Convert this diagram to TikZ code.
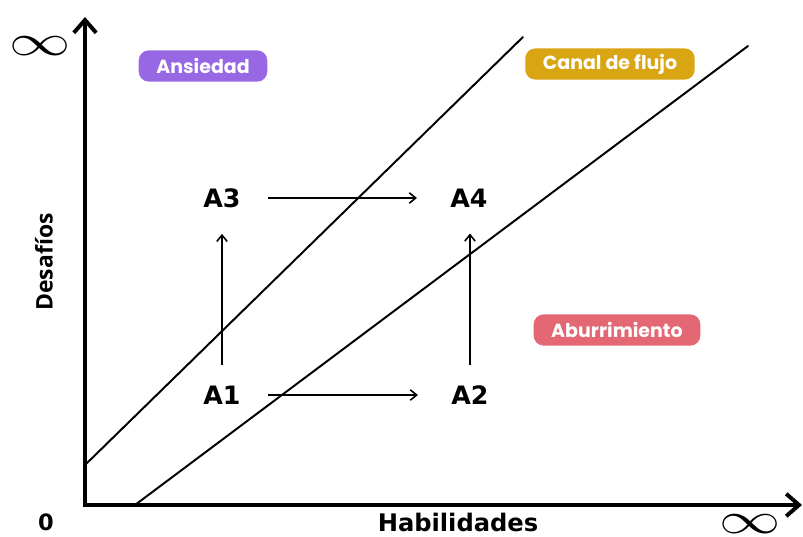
\documentclass[tikz,border=0pt]{standalone}
\usepackage{graphicx}
\usepackage{fontspec}
\setmainfont{DejaVu Sans}
\newfontfamily\badgefont{Poppins}
\newfontfamily\narrowfont{Open Sans}
\usetikzlibrary{arrows.meta, positioning}
\definecolor{SoftPurple}{RGB}{152,104,228}
\definecolor{FlowGold}{RGB}{218,165,18}
\definecolor{SoftRed}{RGB}{228,104,116}

\begin{document}
\begin{tikzpicture}[
    x=0.025cm, y=-0.025cm,
    axis/.style={line width=2.8pt, -{Straight Barb[length=3.2mm, width=5.6mm]}},
    band/.style={line width=1.4pt, line cap=round},
    flow/.style={line width=1.1pt, shorten >=0.15cm, -{Straight Barb[length=1.6mm, width=2.6mm]}},
    state/.style={font=\fontsize{18}{20}\selectfont\bfseries, inner xsep=0.68cm, inner ysep=0.5cm},
    badge/.style={fill=#1, text=white, rounded corners=0.25cm, minimum height=0.78cm,
        inner xsep=0.44cm, font=\badgefont\fontsize{13.5}{15}\selectfont\bfseries},
    axlabel/.style={font=\fontsize{16}{18}\selectfont\bfseries},
    inf/.style={font=\fontsize{24.88}{26}\selectfont},
]
\useasboundingbox (0,0) rectangle (803,537);

% ejes
\coordinate (o) at (85,505);
\coordinate (ytop) at (85,17);
\coordinate (xend) at (802,505);
\draw[axis, line cap=rect] (o) -- (ytop);
\draw[axis, line cap=rect] (o) -- (xend);

% canal de flujo
\coordinate (c1a) at (85,465);
\coordinate (c1b) at (523,37);
\coordinate (c2a) at (135,505);
\coordinate (c2b) at (748,46);
\draw[band] (c1a) -- (c1b);
\draw[band] (c2a) -- (c2b);

% etiquetas de los ejes
\node[inf] (inftop) at (40,46) {\scalebox{1.75}[1.25]{$\infty$}};
\node[inf] (infright) at (750,524) {\scalebox{1.75}[1.25]{$\infty$}};
\node[axlabel] (zero) at (46,522) {0};
\node[font=\narrowfont\fontsize{16.3}{18}\selectfont\bfseries, rotate=90] (ylab) at (44,262) {Desafíos};
\node[axlabel, font=\fontsize{17.2}{19}\selectfont\bfseries, inner ysep=1pt] (xlab) at (458,522) {Habilidades};

% zonas
\node[badge=SoftPurple] (anx) at (203,66) {Ansiedad};
\node[badge=FlowGold] (chan) at (610,64) {Canal de flujo};
\node[badge=SoftRed] (bore) at (617,330) {Aburrimiento};

% estados
\node[state] (a1) at (222,395) {A1};
\node[state] (a2) at (470,395) {A2};
\node[state] (a3) at (222,198) {A3};
\node[state] (a4) at (469,198) {A4};

\draw[flow] (a1) -- (a3);
\draw[flow] (a2.north) -- (a4.south -| a2.north);
\draw[flow] (a1) -- (a2);
\draw[flow] (a3) -- (a4);

\end{tikzpicture}
\end{document}
